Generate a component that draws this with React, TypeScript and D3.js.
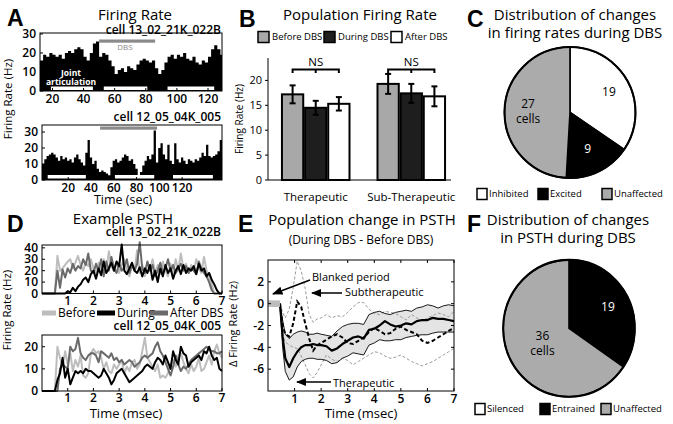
import React from 'react';
import * as d3 from 'd3';

const FONT = "'Open Sans', 'DejaVu Sans', sans-serif";
const LFONT = "'Liberation Sans', Arial, sans-serif";

// ---------- Panel A data ----------
const aTopStart = 12;
const aTopBin = 2;
const aTopRate = [16,19,18,20,19,18,19,17,20,21, 20,22,23,22,18,16,20,25,26,18, 20,19,16,13,9,11,12,10,13,12, 11,14,16,17,16,15,16,12,9,11, 15,18,19,17,19,18,20,17,16,18, 15,14,16,15,18,22,24,22,19];
const aTopDBS = [50, 86];
const aTopJoint = [[19, 46], [53, 81], [94, 124]];
const aTopXTicks = [20, 40, 60, 80, 100, 120];
const aTopYTicks = [0, 10, 20, 30];

const aBotStart = -3;
const aBotBin = 2;
const aBotRate = [10,13,15,16,17,16,14,12,15,13, 14,12,13,11,14,16,13,11,9,17, 25,14,10,12,7,5,6,5,4,3, 8,12,13,11,12,14,16,15,12,13, 10,7,3,5,9,12,15,13,16,31, 11,20,23,16,13,22,12,10,23,13, 11,14,12,10,13,12,11,13,12,14, 17,15,22,15,14,15,16,18,25];
const aBotDBS = [48, 98];
const aBotJoint = [[2, 35.5], [61, 95.5], [112, 147]];
const aBotXTicks = [20, 40, 60, 80, 100, 120];
const aBotYTicks = [0, 10, 20, 30];

// ---------- Panel B data ----------
const bCategories = ['Therapeutic', 'Sub-Therapeutic'];
const bSeries = ['Before DBS', 'During DBS', 'After DBS'];
const bColors = ['#a8a8a8', '#1e1e1e', '#ffffff'];
const bMeans = [[17.2, 14.5, 15.3], [19.3, 17.4, 16.8]];
const bErrors = [[1.8, 1.4, 1.35], [2.0, 1.9, 2.0]];
const bYTicks = [0, 5, 10, 15, 20];

// ---------- Panel C / F data ----------
const cLabels = ['Inhibited', 'Excited', 'Unaffected'];
const cValues = [19, 9, 27];
const fLabels = ['Silenced', 'Entrained', 'Unaffected'];
const fValues = [0, 19, 36];
const pieColors = ['#ffffff', '#000000', '#ababab'];

// ---------- Panel D data (0.1 ms bins, 0..7 ms) ----------
const dBin = 0.1;
const dTopBefore = [0,0,0,0,0,0,33,20,22,25, 28,30,22,27,33,25,20,27,24,30, 22,18,27,20,30,20,37,24,20,28, 18,25,30,20,15,25,20,38,18,25, 15,27,20,30,18,25,17,28,20,15, 26,18,30,20,35,22,26,18,25,20, 30,22,18,32,20,15,8,0,0,0, 0];
const dTopDuring = [0,0,0,0,0,0,0,0,0,0, 2,1,5,2,6,8,12,14,10,17, 20,13,22,16,28,18,22,27,20,28, 24,43,20,17,22,27,20,18,23,15, 22,18,25,12,20,10,22,15,25,18, 22,13,20,24,17,25,18,22,20,24, 17,26,20,22,15,18,12,8,3,0, 0];
const dTopAfter = [0,0,0,0,0,0,20,5,21,14, 22,18,26,20,24,22,30,25,35,20, 18,26,20,30,15,28,20,32,22,18, 26,20,23,30,18,25,20,26,45,22, 18,28,20,25,15,20,27,18,22,30, 20,25,18,22,26,20,24,18,22,20, 17,28,22,18,15,10,3,0,0,0, 0];
const dBotBefore = [0,0,0,0,0,0,20,15,11,18, 12,17,9,14,11,16,7,6,8,17, 19,17,18,15,10,13,9,8,12,10, 12,14,8,11,9,13,14,10,12,18, 24,15,13,11,9,12,6,7,6,8, 12,14,11,16,17,13,10,8,12,9, 11,15,9,10,13,16,12,18,21,17, 15];
const dBotDuring = [0,0,0,0,0,0,5,8,15,6, 10,3,6,9,8,9,8,10,9,9, 8,7,6,7,10,8,6,3,5,8, 9,10,8,6,4,5,6,7,8,9, 11,12,11,10,13,15,14,12,16,13, 10,18,14,12,20,17,16,11,13,14, 15,16,14,18,17,20,16,14,15,10, 9];
const dBotAfter = [0,0,0,0,0,0,0,10,12,11, 10,20,18,19,24,17,15,14,16,17, 17,16,13,18,17,16,15,17,14,15, 13,14,12,13,14,13,11,12,13,15, 16,15,16,17,20,22,18,16,13,10, 7,11,16,12,9,11,10,12,14,15, 16,17,18,19,20,19,18,18,17,17, 18];
const dXTicks = [1, 2, 3, 4, 5, 6, 7];
const dTopYTicks = [0, 10, 20, 30, 40];
const dBotYTicks = [0, 10, 20];
const dLegend = ['Before', 'During', 'After DBS'];
const dColors = ['#bdbdbd', '#000000', '#6a6a6a'];

// ---------- Panel E data ----------
const eTime = [0.45,0.55,0.65,0.8,0.95,1.1,1.25,1.4,1.55,1.7,1.85,2.0,2.2,2.4,2.6,2.8,3.0,3.2,3.4,3.6,3.8,4.0,4.2,4.4,4.6,4.8,5.0,5.2,5.4,5.6,5.8,6.0,6.2,6.4,6.6,6.8,7.0];
const eTherMean = [0,-3.0,-5.0,-5.8,-5.0,-4.4,-4.0,-3.8,-3.8,-3.7,-3.8, -3.8,-3.9,-4.3,-4.1,-3.7,-3.4,-3.1,-3.0,-3.2,-2.4,-2.3,-2.0,-1.6,-1.9,-2.1,-2.0,-1.8,-1.9,-1.6,-1.5,-1.5,-1.3,-1.4,-1.4,-1.5,-1.6];
const eTherUpper = [0,-1.5,-2.8,-3.2,-2.8,-2.6,-2.5,-2.6,-2.8,-2.8,-2.7, -2.8,-2.9,-3.0,-2.5,-2.1,-1.9,-1.8,-1.8,-1.9,-1.0,-0.8,-0.7,-0.9,-1.0,-0.8,-0.7,-0.6,-0.7,-0.4,-0.3,-0.1,-0.2,-0.4,-0.2,-0.1,-0.2];
const eTherLower = [0,-4.0,-6.2,-7.0,-6.7,-5.8,-5.3,-5.1,-5.0,-5.0,-5.1, -5.1,-5.2,-5.5,-5.4,-5.0,-4.8,-4.5,-4.6,-4.7,-3.8,-3.6,-3.3,-3.4,-3.4,-3.3,-3.3,-3.1,-3.0,-2.9,-2.85,-2.85,-2.7,-2.6,-2.6,-2.6,-2.6];
const eSubMean = [0,-2.0,-2.8,-3.0,-1.8,0.2,-0.3,-1.8,-3.2,-4.3,-3.8, -3.6,-3.3,-3.0,-2.8,-3.1,-3.6,-3.7,-3.4,-3.1,-2.6,-2.2,-2.5,-2.8,-2.7,-2.3,-2.1,-2.4,-2.6,-2.8,-3.4,-3.6,-3.4,-3.1,-2.8,-2.5,-2.2];
const eSubUpper = [0,-0.8,-1.3,-0.5,1.5,3.9,3.0,1.4,-1.0,-1.7,-1.4, -1.3,-1.0,-1.3,-1.1,-1.2,-0.8,-0.3,0.1,0.1,-0.5,-0.9,-1.0,-0.7,-0.8,-0.9,-1.2,-1.5,-1.0,-1.3,-1.6,-1.3,-1.1,-0.85,-1.0,-1.2,-0.7];
const eSubLower = [0,-2.8,-3.5,-3.8,-4.0,-4.1,-4.8,-5.6,-6.4,-6.8,-6.3, -5.6,-4.7,-5.1,-5.3,-5.0,-5.2,-5.6,-5.3,-5.0,-4.7,-4.4,-4.5,-4.8,-5.0,-4.9,-4.7,-5.0,-5.3,-5.5,-5.7,-5.5,-5.3,-5.0,-4.7,-4.4,-4.1];
const eBlank = [0, 0.45];
const eXTicks = [1, 2, 3, 4, 5, 6, 7];
const eYTicks = [-6, -4, -2, 0, 2];

type Lin = d3.ScaleLinear<number, number>;

function BoxAxes(props: {
  x: Lin; y: Lin; xTicks: number[]; yTicks: number[];
  fs?: number; fw?: number; all?: boolean; xDy?: number;
}) {
  const { x, y, xTicks, yTicks, fs = 12, fw = 600, all = false, xDy = 12 } = props;
  const [x0, x1] = x.range();
  const [y0, y1] = y.range();
  const t = 3;
  return (
    <g fontFamily={FONT} fontSize={fs} fontWeight={fw}>
      <rect x={x0} y={y1} width={x1 - x0} height={y0 - y1} fill="none" stroke="#000" strokeWidth={1} />
      {xTicks.map((v) => (
        <g key={'x' + v}>
          <line x1={x(v)} x2={x(v)} y1={y0} y2={y0 - t} stroke="#000" />
          {all && <line x1={x(v)} x2={x(v)} y1={y1} y2={y1 + t} stroke="#000" />}
          <text x={x(v)} y={y0 + xDy} textAnchor="middle">{v}</text>
        </g>
      ))}
      {yTicks.map((v) => (
        <g key={'y' + v}>
          <line x1={x0} x2={x0 + t} y1={y(v)} y2={y(v)} stroke="#000" />
          {all && <line x1={x1} x2={x1 - t} y1={y(v)} y2={y(v)} stroke="#000" />}
          <text x={x0 - 4} y={y(v)} dy="0.35em" textAnchor="end">{v}</text>
        </g>
      ))}
    </g>
  );
}

function RatePanel(props: {
  data: number[]; start: number; bin: number; xDomain: [number, number];
  xRange: [number, number]; yDomain: [number, number]; yRange: [number, number];
  dbs: number[]; dbsY: number; joint: number[][]; jointY: number;
  xTicks: number[]; yTicks: number[];
}) {
  const { data, start, bin, xDomain, xRange, yDomain, yRange, dbs, dbsY, joint, jointY, xTicks, yTicks } = props;
  const x = d3.scaleLinear().domain(xDomain).range(xRange);
  const y = d3.scaleLinear().domain(yDomain).range(yRange);
  const pts: [number, number][] = data.map((v, i) => [start + bin * i, v]);
  pts.push([xDomain[1], data[data.length - 1]]);
  const area = d3.area<[number, number]>()
    .curve(d3.curveStepAfter)
    .x((d) => x(Math.max(d[0], xDomain[0])))
    .y0(y(0))
    .y1((d) => y(d[1]));
  return (
    <g>
      <path d={area(pts) || ''} fill="#000" />
      {joint.map((j, i) => (
        <rect key={i} x={x(j[0])} y={jointY} width={x(j[1]) - x(j[0])} height={3.5} fill="#fff" />
      ))}
      <rect x={x(dbs[0])} y={dbsY} width={x(dbs[1]) - x(dbs[0])} height={3.2} fill="#8a8a8a" />
      <BoxAxes x={x} y={y} xTicks={xTicks} yTicks={yTicks} xDy={12} />
    </g>
  );
}

function PsthPanel(props: {
  series: number[][]; yDomain: [number, number]; yRange: [number, number]; yTicks: number[];
}) {
  const { series, yDomain, yRange, yTicks } = props;
  const x = d3.scaleLinear().domain([0, 7]).range([42, 222]);
  const y = d3.scaleLinear().domain(yDomain).range(yRange);
  const line = d3.line<number>().x((_, i) => x(i * dBin)).y((d) => y(d));
  const order = [0, 2, 1];
  return (
    <g>
      {order.map((k) => (
        <path key={k} d={line(series[k]) || ''} fill="none" stroke={dColors[k]} strokeWidth={2} strokeLinejoin="round" />
      ))}
      <BoxAxes x={x} y={y} xTicks={dXTicks} yTicks={yTicks} fs={12} xDy={11} />
    </g>
  );
}

function Pie(props: {
  cx: number; cy: number; r: number; sy?: number; values: number[];
  labelR: number[]; labels: string[][]; labelColors: string[];
}) {
  const { cx, cy, r, sy = 1, values, labelR, labels, labelColors } = props;
  const arcs = d3.pie<number>().sort(null).value((d) => d)(values);
  const arc = d3.arc<d3.PieArcDatum<number>>().innerRadius(0).outerRadius(r);
  return (
    <g transform={`translate(${cx},${cy})`}>
      <g transform={`scale(1,${sy})`}>
        {arcs.map((a, i) => (
          <path key={i} d={arc(a) || ''} fill={pieColors[i]} stroke="#000" strokeWidth={1.6} strokeLinejoin="round" />
        ))}
        <circle r={r} fill="none" stroke="#000" strokeWidth={2} />
      </g>
      {arcs.map((a, i) => {
        if (!labels[i].length) return null;
        const la = d3.arc<d3.PieArcDatum<number>>().innerRadius(labelR[i]).outerRadius(labelR[i]);
        const [lx, ly0] = la.centroid(a);
        const ly = ly0 * sy;
        const n = labels[i].length;
        return (
          <text key={'l' + i} textAnchor="middle" fontFamily={FONT} fontSize={12} fill={labelColors[i]}>
            {labels[i].map((s, j) => (
              <tspan key={j} x={lx} y={ly + (j - (n - 1) / 2) * 15} dy="0.35em">{s}</tspan>
            ))}
          </text>
        );
      })}
    </g>
  );
}

function PieLegend(props: { x: number[]; y: number; labels: string[] }) {
  const { x, y, labels } = props;
  return (
    <g fontFamily={FONT} fontSize={9.5}>
      {labels.map((l, i) => (
        <g key={l}>
          <rect x={x[i]} y={y - 5.5} width={10} height={11} fill={pieColors[i]} stroke="#000" strokeWidth={1.5} />
          <text x={x[i] + 12} y={y} dy="0.35em">{l}</text>
        </g>
      ))}
    </g>
  );
}

function PanelB() {
  const y = d3.scaleLinear().domain([0, 24.5]).range([180, 58]);
  const xg = d3.scaleBand<string>().domain(bCategories).range([268, 459]).paddingInner(0.293).paddingOuter(0.146);
  const xs = d3.scaleBand<string>().domain(bSeries).range([0, xg.bandwidth()]).paddingInner(0.08);
  return (
    <g fontFamily={FONT}>
      {bSeries.map((s, i) => {
        const lx = [258, 324, 391][i];
        return (
          <g key={s}>
            <rect x={lx} y={31.5} width={11} height={11} fill={bColors[i]} stroke="#000" strokeWidth={1.5} />
            <text x={lx + 14} y={37} dy="0.35em" fontSize={9.5}>{s}</text>
          </g>
        );
      })}
      {bCategories.map((c, gi) => {
        const g0 = xg(c) as number;
        const centers = bSeries.map((s) => g0 + (xs(s) as number) + xs.bandwidth() / 2);
        return (
          <g key={c}>
            {bSeries.map((s, si) => {
              const bx = g0 + (xs(s) as number);
              const v = bMeans[gi][si];
              const e = bErrors[gi][si];
              const cx = bx + xs.bandwidth() / 2;
              return (
                <g key={s}>
                  <rect x={bx} y={y(v)} width={xs.bandwidth()} height={y(0) - y(v)} fill={bColors[si]} stroke="#000" strokeWidth={2} />
                  <line x1={cx} x2={cx} y1={y(v - e)} y2={y(v + e)} stroke="#000" strokeWidth={2} />
                  <line x1={cx - 3} x2={cx + 3} y1={y(v - e)} y2={y(v - e)} stroke="#000" strokeWidth={2} />
                  <line x1={cx - 3} x2={cx + 3} y1={y(v + e)} y2={y(v + e)} stroke="#000" strokeWidth={2} />
                </g>
              );
            })}
            <path d={`M${centers[0]},73 V69.5 H${centers[2]} V73 M${centers[1]},69.5 V73`} fill="none" stroke="#000" strokeWidth={2} />
            <text x={centers[1]} y={62} dy="0.35em" textAnchor="middle" fontSize={11.5}>NS</text>
            <text x={g0 + xg.bandwidth() / 2} y={197} dy="0.35em" textAnchor="middle" fontSize={11.5}>{c}</text>
          </g>
        );
      })}
      <line x1={268} x2={268} y1={58} y2={180} stroke="#000" />
      <line x1={268} x2={451} y1={180} y2={180} stroke="#000" />
      {bYTicks.map((v) => (
        <g key={v}>
          <line x1={265} x2={268} y1={y(v)} y2={y(v)} stroke="#000" />
          <text x={262} y={y(v)} dy="0.35em" textAnchor="end" fontSize={11}>{v}</text>
        </g>
      ))}
      <text transform="translate(243,119) rotate(-90)" textAnchor="middle" fontSize={10}>Firing Rate (Hz)</text>
    </g>
  );
}

function PanelE() {
  const x = d3.scaleLinear().domain([0, 7]).range([268, 454]);
  const y = d3.scaleLinear().domain([-8, 4]).range([391, 260]);
  const line = (vals: number[]) => d3.line<number>().x((_, i) => x(eTime[i])).y((d) => y(d))(vals) || '';
  const band = d3.area<number>().x((_, i) => x(eTime[i])).y0((_, i) => y(eTherLower[i])).y1((d) => y(d))(eTherUpper) || '';
  return (
    <g>
      <defs>
        <marker id="arrowhead" viewBox="0 0 10 10" refX="9" refY="5" markerWidth="7" markerHeight="7" orient="auto">
          <path d="M0,1 L10,5 L0,9 z" fill="#000" />
        </marker>
        <clipPath id="eclip"><rect x={268} y={260} width={186} height={131} /></clipPath>
      </defs>
      <g clipPath="url(#eclip)">
        <path d={band} fill="#e4e4e4" stroke="none" />
        <path d={line(eSubUpper)} fill="none" stroke="#9a9a9a" strokeWidth={1} strokeDasharray="3,2" />
        <path d={line(eSubLower)} fill="none" stroke="#9a9a9a" strokeWidth={1} strokeDasharray="3,2" />
        <path d={line(eTherUpper)} fill="none" stroke="#000" strokeWidth={0.9} />
        <path d={line(eTherLower)} fill="none" stroke="#000" strokeWidth={0.9} />
        <path d={line(eSubMean)} fill="none" stroke="#000" strokeWidth={2} strokeDasharray="4,2.5" />
        <path d={line(eTherMean)} fill="none" stroke="#000" strokeWidth={2.2} strokeLinejoin="round" />
        <rect x={x(eBlank[0])} y={y(0.3)} width={x(eBlank[1]) - x(eBlank[0])} height={y(-0.3) - y(0.3)} fill="#bdbdbd" />
      </g>
      <BoxAxes x={x} y={y} xTicks={eXTicks} yTicks={eYTicks} all fs={12} xDy={12} />
      <g fontFamily={FONT} fontSize={11}>
        <line x1={310} y1={280} x2={273} y2={294} stroke="#000" strokeWidth={1.5} markerEnd="url(#arrowhead)" />
        <text x={312} y={277} dy="0.35em">Blanked period</text>
        <line x1={342} y1={293} x2={312} y2={293} stroke="#000" strokeWidth={1.5} markerEnd="url(#arrowhead)" />
        <text x={345} y={292} dy="0.35em">Subtherapeutic</text>
        <line x1={331} y1={382} x2={297} y2={382} stroke="#000" strokeWidth={1.5} markerEnd="url(#arrowhead)" />
        <text x={333} y={383.5} dy="0.35em">Therapeutic</text>
      </g>
      <text transform="translate(237,324) rotate(-90)" textAnchor="middle" fontFamily={FONT} fontSize={11}>Δ Firing Rate (Hz)</text>
      <text x={361} y={413} dy="0.35em" textAnchor="middle" fontFamily={FONT} fontSize={13}>Time (msec)</text>
    </g>
  );
}

export default function App() {
  const letter = (s: string, x: number, y: number) => (
    <text x={x} y={y} fontFamily={LFONT} fontWeight={700} fontSize={23}>{s}</text>
  );
  const title = (s: string, x: number, y: number, fs = 15) => (
    <text x={x} y={y} textAnchor="middle" fontFamily={FONT} fontSize={fs}>{s}</text>
  );
  const cell = (s: string, y: number) => (
    <text x={221} y={y} textAnchor="end" fontFamily={FONT} fontSize={12} fontWeight={600}>{s}</text>
  );
  const dLegX = [[42, 56, 58], [97, 115, 117], [150, 168, 170]];
  return (
    <svg width={673} height={424} style={{ position: 'absolute', left: 0, top: 0, background: '#fff' }}>
      <rect width={673} height={424} fill="#fff" />
      {/* Panel A */}
      {letter('A', 7, 26)}
      {title('Firing Rate', 135, 20)}
      {cell('cell 13_02_21K_022B', 34)}
      <RatePanel data={aTopRate} start={aTopStart} bin={aTopBin} xDomain={[12, 129]} xRange={[40, 222]}
        yDomain={[0, 30.5]} yRange={[91, 33]} dbs={aTopDBS} dbsY={39.5} joint={aTopJoint} jointY={86.5}
        xTicks={aTopXTicks} yTicks={aTopYTicks} />
      <text x={125} y={47} dy="0.35em" textAnchor="middle" fontFamily={FONT} fontSize={8} fill="#8a8a8a">DBS</text>
      <text x={71} y={73} dy="0.35em" textAnchor="middle" fontFamily={FONT} fontSize={8.5} fontWeight={700} fill="#fff">Joint</text>
      <text x={71} y={82} dy="0.35em" textAnchor="middle" fontFamily={FONT} fontSize={8.5} fontWeight={700} fill="#fff">articulation</text>
      {cell('cell 12_05_04K_005', 121)}
      <RatePanel data={aBotRate} start={aBotStart} bin={aBotBin} xDomain={[-3, 155]} xRange={[42, 222]}
        yDomain={[0, 34.4]} yRange={[180, 125]} dbs={aBotDBS} dbsY={126.5} joint={aBotJoint} jointY={175}
        xTicks={aBotXTicks} yTicks={aBotYTicks} />
      <text x={123} y={199.5} dy="0.35em" textAnchor="middle" fontFamily={FONT} fontSize={12.5}>Time (sec)</text>
      <text transform="translate(12,99) rotate(-90)" textAnchor="middle" fontFamily={FONT} fontSize={11.5}>Firing Rate (Hz)</text>

      {/* Panel B */}
      {letter('B', 239, 27)}
      {title('Population Firing Rate', 360, 20)}
      <PanelB />

      {/* Panel C */}
      {letter('C', 467, 27)}
      {title('Distribution of changes', 575, 20)}
      {title('in firing rates during DBS', 575, 38)}
      <Pie cx={570} cy={112.5} r={65.5} values={cValues} labelR={[44, 40, 42]}
        labels={[['19'], ['9'], ['27', 'cells']]} labelColors={['#000', '#fff', '#000']} />
      <PieLegend x={[477, 538, 602]} y={194} labels={cLabels} />

      {/* Panel D */}
      {letter('D', 7, 232)}
      {title('Example PSTH', 123, 224)}
      {cell('cell 13_02_21K_022B', 236)}
      <PsthPanel series={[dTopBefore, dTopDuring, dTopAfter]} yDomain={[0, 42.5]} yRange={[293.5, 245]} yTicks={dTopYTicks} />
      <g fontFamily={FONT} fontSize={12}>
        {dLegend.map((l, i) => (
          <g key={l}>
            <line x1={dLegX[i][0]} x2={dLegX[i][1]} y1={313} y2={313} stroke={dColors[i]} strokeWidth={5} />
            <text x={dLegX[i][2]} y={313} dy="0.35em">{l}</text>
          </g>
        ))}
      </g>
      {cell('cell 12_05_04K_005', 330)}
      <PsthPanel series={[dBotBefore, dBotDuring, dBotAfter]} yDomain={[0, 25.3]} yRange={[391, 335]} yTicks={dBotYTicks} />
      <text x={126} y={413} dy="0.35em" textAnchor="middle" fontFamily={FONT} fontSize={13}>Time (msec)</text>
      <text transform="translate(11,310) rotate(-90)" textAnchor="middle" fontFamily={FONT} fontSize={11.5}>Firing Rate (Hz)</text>

      {/* Panel E */}
      {letter('E', 238, 232)}
      {title('Population change in PSTH', 362, 225)}
      {title('(During  DBS - Before DBS)', 361, 244, 12)}
      <PanelE />

      {/* Panel F */}
      {letter('F', 467, 232)}
      {title('Distribution of changes', 568, 225)}
      {title('in PSTH during DBS', 568, 243)}
      <Pie cx={569} cy={328.3} r={65.8} sy={1.04} values={fValues} labelR={[40, 44, 30]}
        labels={[[], ['19'], ['36', 'cells']]} labelColors={['#000', '#fff', '#000']} />
      <PieLegend x={[475, 540, 601]} y={409} labels={fLabels} />
    </svg>
  );
}
